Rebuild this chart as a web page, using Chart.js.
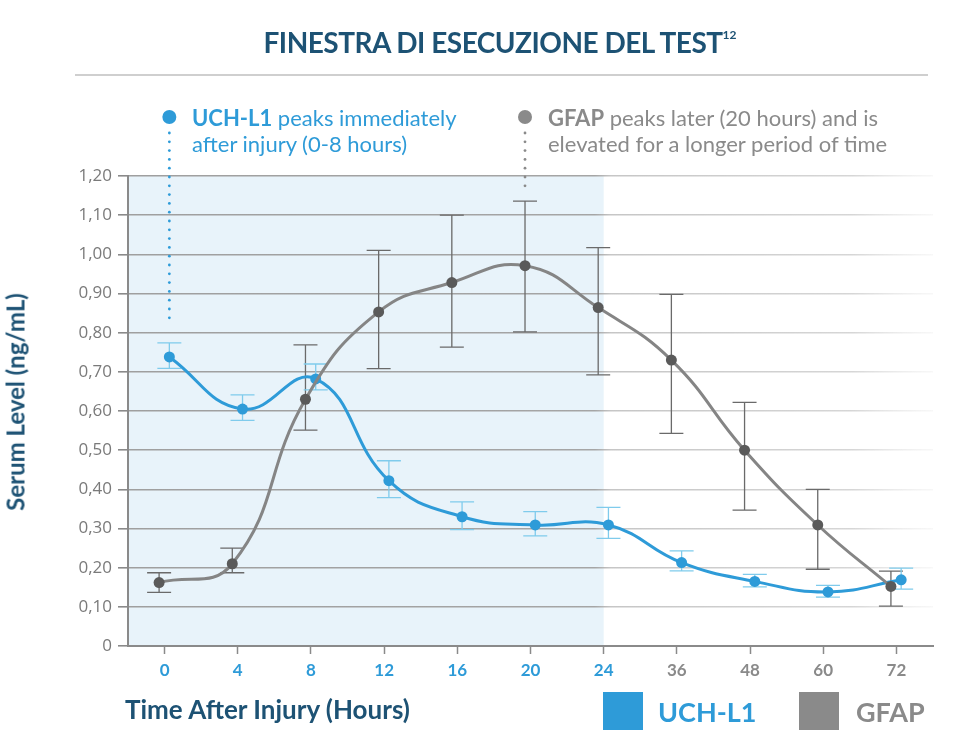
<!DOCTYPE html>
<html>
<head>
	<meta charset="utf-8">
	<title>Finestra di esecuzione del test</title>
	<script src="https://cdn.jsdelivr.net/npm/chart.js@4.4.1/dist/chart.umd.min.js"></script>
	<style>
		body { margin: 0; background: #fff; font-family: Lato, "Open Sans", sans-serif; }
		#wrap { position: relative; width: 960px; height: 750px; overflow: hidden; }
		#graph { position: absolute; left: 0; top: 0; }
		.title { position: absolute; left: 0; width: 1000px; top: 25px; text-align: center; color: #1d5274; font-weight: bold; font-size: 28px; letter-spacing: -0.5px; }
		.title sup { font-size: 12px; letter-spacing: 0; position: relative; top: -4px; }
		.rule { position: absolute; left: 75px; width: 853px; top: 74px; height: 2px; background: #cfcfcf; }
		.note { position: absolute; top: 105px; font-size: 22px; line-height: 26px; }
		.note b { font-weight: bold; }
		.note.blue { left: 192px; color: #2e9bd8; }
		.note.gray { left: 548px; color: #8a8a8a; }
		.ytitle { position: absolute; left: 15px; top: 402px; transform: translate(-50%, -50%) rotate(-90deg); white-space: nowrap; color: #1d5274; font-weight: bold; font-size: 24px; }
		.xtitle { position: absolute; left: 125px; top: 693px; color: #1d5274; font-weight: bold; font-size: 26px; }
		.leg { position: absolute; top: 692px; width: 40px; height: 38px; }
		.legtext { position: absolute; top: 695px; font-weight: bold; font-size: 27px; }
	</style>
</head>
<body>
<div id="wrap">
	<canvas id="graph" width="960" height="750"></canvas>
	<div class="title">FINESTRA DI ESECUZIONE DEL TEST<sup>12</sup></div>
	<div class="rule"></div>
	<div class="note blue"><b>UCH-L1</b> peaks immediately<br>after injury (0-8 hours)</div>
	<div class="note gray"><b>GFAP</b> peaks later (20 hours) and is<br>elevated for a longer period of time</div>
	<div class="ytitle">Serum Level (ng/mL)</div>
	<div class="xtitle">Time After Injury (Hours)</div>
	<div class="leg" style="left:603px;background:#2e9bd8"></div>
	<div class="legtext" style="left:658px;color:#2e9bd8">UCH-L1</div>
	<div class="leg" style="left:799px;background:#8a8a8a"></div>
	<div class="legtext" style="left:856px;color:#8a8a8a">GFAP</div>
</div>
<script>
	// hours after injury (category labels)
	const hours = ['0', '4', '8', '12', '16', '20', '24', '36', '48', '60', '72'];
	const yLabels = ['0', '0,10', '0,20', '0,30', '0,40', '0,50', '0,60', '0,70', '0,80', '0,90', '1,00', '1,10', '1,20'];

	const uchl1 = [0.738, 0.605, 0.682, 0.422, 0.330, 0.309, 0.309, 0.213, 0.165, 0.138, 0.169];
	const uchl1High = [0.774, 0.641, 0.720, 0.473, 0.368, 0.343, 0.354, 0.243, 0.183, 0.155, 0.199];
	const uchl1Low = [0.709, 0.576, 0.654, 0.379, 0.297, 0.281, 0.275, 0.192, 0.151, 0.125, 0.145];

	const gfap = [0.162, 0.210, 0.630, 0.853, 0.928, 0.971, 0.864, 0.730, 0.500, 0.309, 0.152];
	const gfapHigh = [0.187, 0.250, 0.769, 1.010, 1.100, 1.136, 1.017, 0.898, 0.622, 0.400, 0.191];
	const gfapLow = [0.137, 0.187, 0.551, 0.708, 0.763, 0.802, 0.692, 0.543, 0.347, 0.196, 0.102];

	const BLUE = '#2e9bd8';
	const GRAY = '#858585';
	const shadeUntil = 6; // index of "24"

	function pts(values, shift) {
		return values.map((v, i) => ({ x: i + shift, y: v }));
	}

	const shading = {
		id: 'shading',
		beforeDraw(chart) {
			const { ctx, chartArea, scales } = chart;
			const right = scales.x.getPixelForValue(shadeUntil);
			ctx.save();
			ctx.fillStyle = '#e8f3fa';
			ctx.fillRect(chartArea.left, chartArea.top, right - chartArea.left, chartArea.bottom - chartArea.top);
			ctx.restore();
		}
	};

	const errorBars = {
		id: 'errorBars',
		beforeDatasetsDraw(chart) {
			const { ctx, scales } = chart;
			chart.data.datasets.forEach((ds, d) => {
				const meta = chart.getDatasetMeta(d);
				ctx.save();
				ctx.strokeStyle = ds.errColor;
				ctx.lineWidth = 1.3;
				meta.data.forEach((el, i) => {
					const top = scales.y.getPixelForValue(ds.high[i]);
					const bot = scales.y.getPixelForValue(ds.low[i]);
					ctx.beginPath();
					ctx.moveTo(el.x, top); ctx.lineTo(el.x, bot);
					ctx.moveTo(el.x - 12, top); ctx.lineTo(el.x + 12, top);
					ctx.moveTo(el.x - 12, bot); ctx.lineTo(el.x + 12, bot);
					ctx.stroke();
				});
				ctx.restore();
			});
		}
	};

	// callout dots with dotted leader lines down to the peak
	const callouts = {
		id: 'callouts',
		afterDraw(chart) {
			const { ctx, scales } = chart;
			const items = [
				{ d: 1, i: 0, color: BLUE, end: 0.822 },
				{ d: 0, i: 5, color: '#8a8a8a', end: 1.157 }
			];
			ctx.save();
			items.forEach(it => {
				const x = chart.getDatasetMeta(it.d).data[it.i].x;
				const endY = scales.y.getPixelForValue(it.end);
				ctx.fillStyle = it.color;
				ctx.beginPath();
				ctx.arc(x, 117, 7, 0, Math.PI * 2);
				ctx.fill();
				for (let y = 133; y <= endY + 0.5; y += 8.8) {
					ctx.beginPath();
					ctx.arc(x, y, 1.4, 0, Math.PI * 2);
					ctx.fill();
				}
			});
			ctx.restore();
		}
	};

	const ctx = document.getElementById('graph').getContext('2d');

	new Chart(ctx, {
		type: 'line',
		data: {
			datasets: [{
				label: 'GFAP',
				data: pts(gfap, -0.075),
				high: gfapHigh,
				low: gfapLow,
				errColor: '#6a6a6a',
				borderColor: GRAY,
				borderWidth: 3,
				pointBackgroundColor: '#5a5a5a',
				pointBorderWidth: 0,
				pointRadius: 5.5,
				tension: 0.45
			}, {
				label: 'UCH-L1',
				data: pts(uchl1, 0.065),
				high: uchl1High,
				low: uchl1Low,
				errColor: '#7fcbec',
				borderColor: BLUE,
				borderWidth: 3,
				pointBackgroundColor: BLUE,
				pointBorderWidth: 0,
				pointRadius: 5.5,
				tension: 0.45
			}]
		},
		options: {
			responsive: false,
			animation: false,
			layout: { padding: { top: 176, right: 27, bottom: 44, left: 0 } },
			plugins: { legend: { display: false }, tooltip: { enabled: false } },
			scales: {
				x: {
					type: 'linear',
					min: -0.5,
					max: hours.length - 0.5,
					afterBuildTicks: s => { s.ticks = hours.map((h, i) => ({ value: i })); },
					afterFit: s => { s.height = 60; },
					border: { color: '#8a8a8a', width: 2 },
					grid: { drawOnChartArea: false, tickLength: 8, tickColor: '#8a8a8a', tickWidth: 1.5 },
					ticks: {
						padding: 6,
						callback: v => hours[v],
						color: c => c.index <= shadeUntil ? BLUE : '#8a8a8a',
						font: { family: 'Lato', size: 17, weight: 'bold' }
					}
				},
				y: {
					min: 0,
					max: 1.2,
					afterFit: s => { s.width = 128; },
					border: { color: '#8a8a8a', width: 2 },
					grid: {
						tickLength: 10,
						tickColor: '#8a8a8a',
						lineWidth: 1.6,
						color: c => {
							const area = c.chart.chartArea;
							if (!area) return '#aaa';
							const g = c.chart.ctx.createLinearGradient(area.left, 0, area.right, 0);
							g.addColorStop(0, '#9f9f9f');
							g.addColorStop(0.58, '#a5a5a5');
							g.addColorStop(0.6, '#c6c6c6');
							g.addColorStop(0.9, '#d6d6d6');
							g.addColorStop(1, 'rgba(230,230,230,0.3)');
							return g;
						}
					},
					ticks: {
						stepSize: 0.1,
						padding: 6,
						color: '#7a7a7a',
						callback: (v, i) => yLabels[i],
						font: { family: 'Open Sans', size: 17 }
					}
				}
			}
		},
		plugins: [shading, errorBars, callouts]
	});
</script>
</body>
</html>
